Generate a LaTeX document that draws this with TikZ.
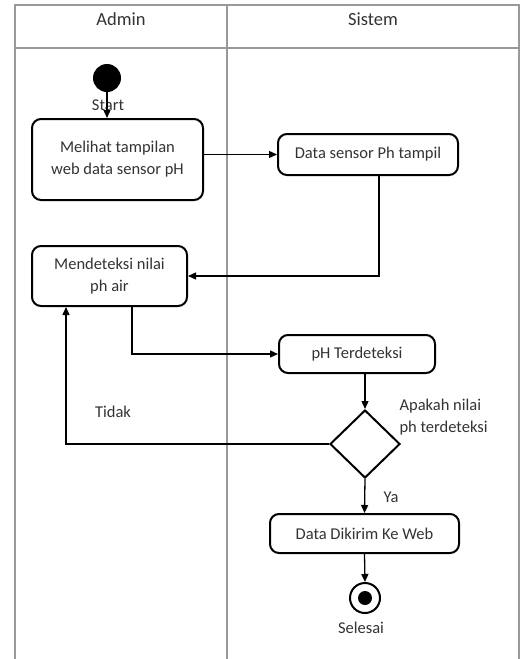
\documentclass[tikz,border=0pt]{standalone}
\usepackage{fontspec}
\setmainfont{Carlito}
\usepackage{tikz}
\usetikzlibrary{shapes.geometric,arrows.meta}

\tikzset{
  lane/.style={draw=black!40, line width=1.3pt},
  act/.style={draw, rounded corners=9pt, line width=2pt, align=center, inner sep=2pt},
  flow/.style={line width=1.3pt, -{Triangle[length=8pt,width=7pt]}},
  head/.style={font=\fontsize{18.5}{22}\selectfont}
}

\begin{document}
\begin{tikzpicture}[x=1pt, y=-1pt, every node/.style={font=\fontsize{16.5}{22}\selectfont, text=black!80}]
  \useasboundingbox (0,0) rectangle (520,659);

  % Swimlanes
  \draw[lane] (15,659) -- (15,5) -- (519,5) -- (519,659);
  \draw[lane] (15,48) -- (519,48);
  \draw[lane] (227,5) -- (227,659);
  \node[head] (hadmin) at (121,19) {Admin};
  \node[head] (hsistem) at (373,19) {Sistem};

  % Activities
  \fill (107,78) circle (14pt); \coordinate (start) at (107,92);
  \node[act, minimum width=171pt, minimum height=81pt] (lihat) at (117.5,159.5) {Melihat tampilan\\web data sensor pH};
  \node[act, minimum width=180pt, minimum height=41pt] (tampil) at (368,154.5) {Data sensor Ph tampil};
  \node[act, minimum width=155pt, minimum height=60pt] (deteksi) at (109.5,276) {Mendeteksi nilai\\ph air};
  \node[act, minimum width=156pt, minimum height=38pt] (terdeteksi) at (357,354) {pH Terdeteksi};
  \node[diamond, draw, line width=2pt, minimum width=70pt, minimum height=68pt, inner sep=0pt] (cek) at (365,444) {};
  \node[act, minimum width=189pt, minimum height=39pt] (kirim) at (364.5,533.5) {Data Dikirim Ke Web};
  \node[circle, draw, line width=2pt, minimum size=30pt, inner sep=0pt] (selesai) at (365,598) {};
  \fill (selesai) circle (7pt);

  % Labels
  \node (lblstart) at (108,105) {Start};
  \node[anchor=west, align=left] (lblcek) at (396,417) {Apakah nilai\\ph terdeteksi};
  \node (lbltidak) at (113,412) {Tidak};
  \node (lblya) at (391,497) {Ya};
  \node (lblselesai) at (361,628) {Selesai};

  % Flows
  \draw[flow] (start) -- (start |- lihat.north);
  \draw[flow] (lihat.east |- tampil) -- (tampil.west);
  \draw[flow] ([xshift=11pt]tampil.south) |- (deteksi.east);
  \draw[flow] ([xshift=22.5pt]deteksi.south) |- (terdeteksi.west);
  \draw[flow] (terdeteksi.south -| cek) -- (cek.north);
  \draw[flow] (cek.west) -| ([xshift=-43.5pt]deteksi.south);
  \draw[flow] (cek.south) -- (kirim.north);
  \draw[flow] (kirim.south) -- (selesai.north);
\end{tikzpicture}
\end{document}
